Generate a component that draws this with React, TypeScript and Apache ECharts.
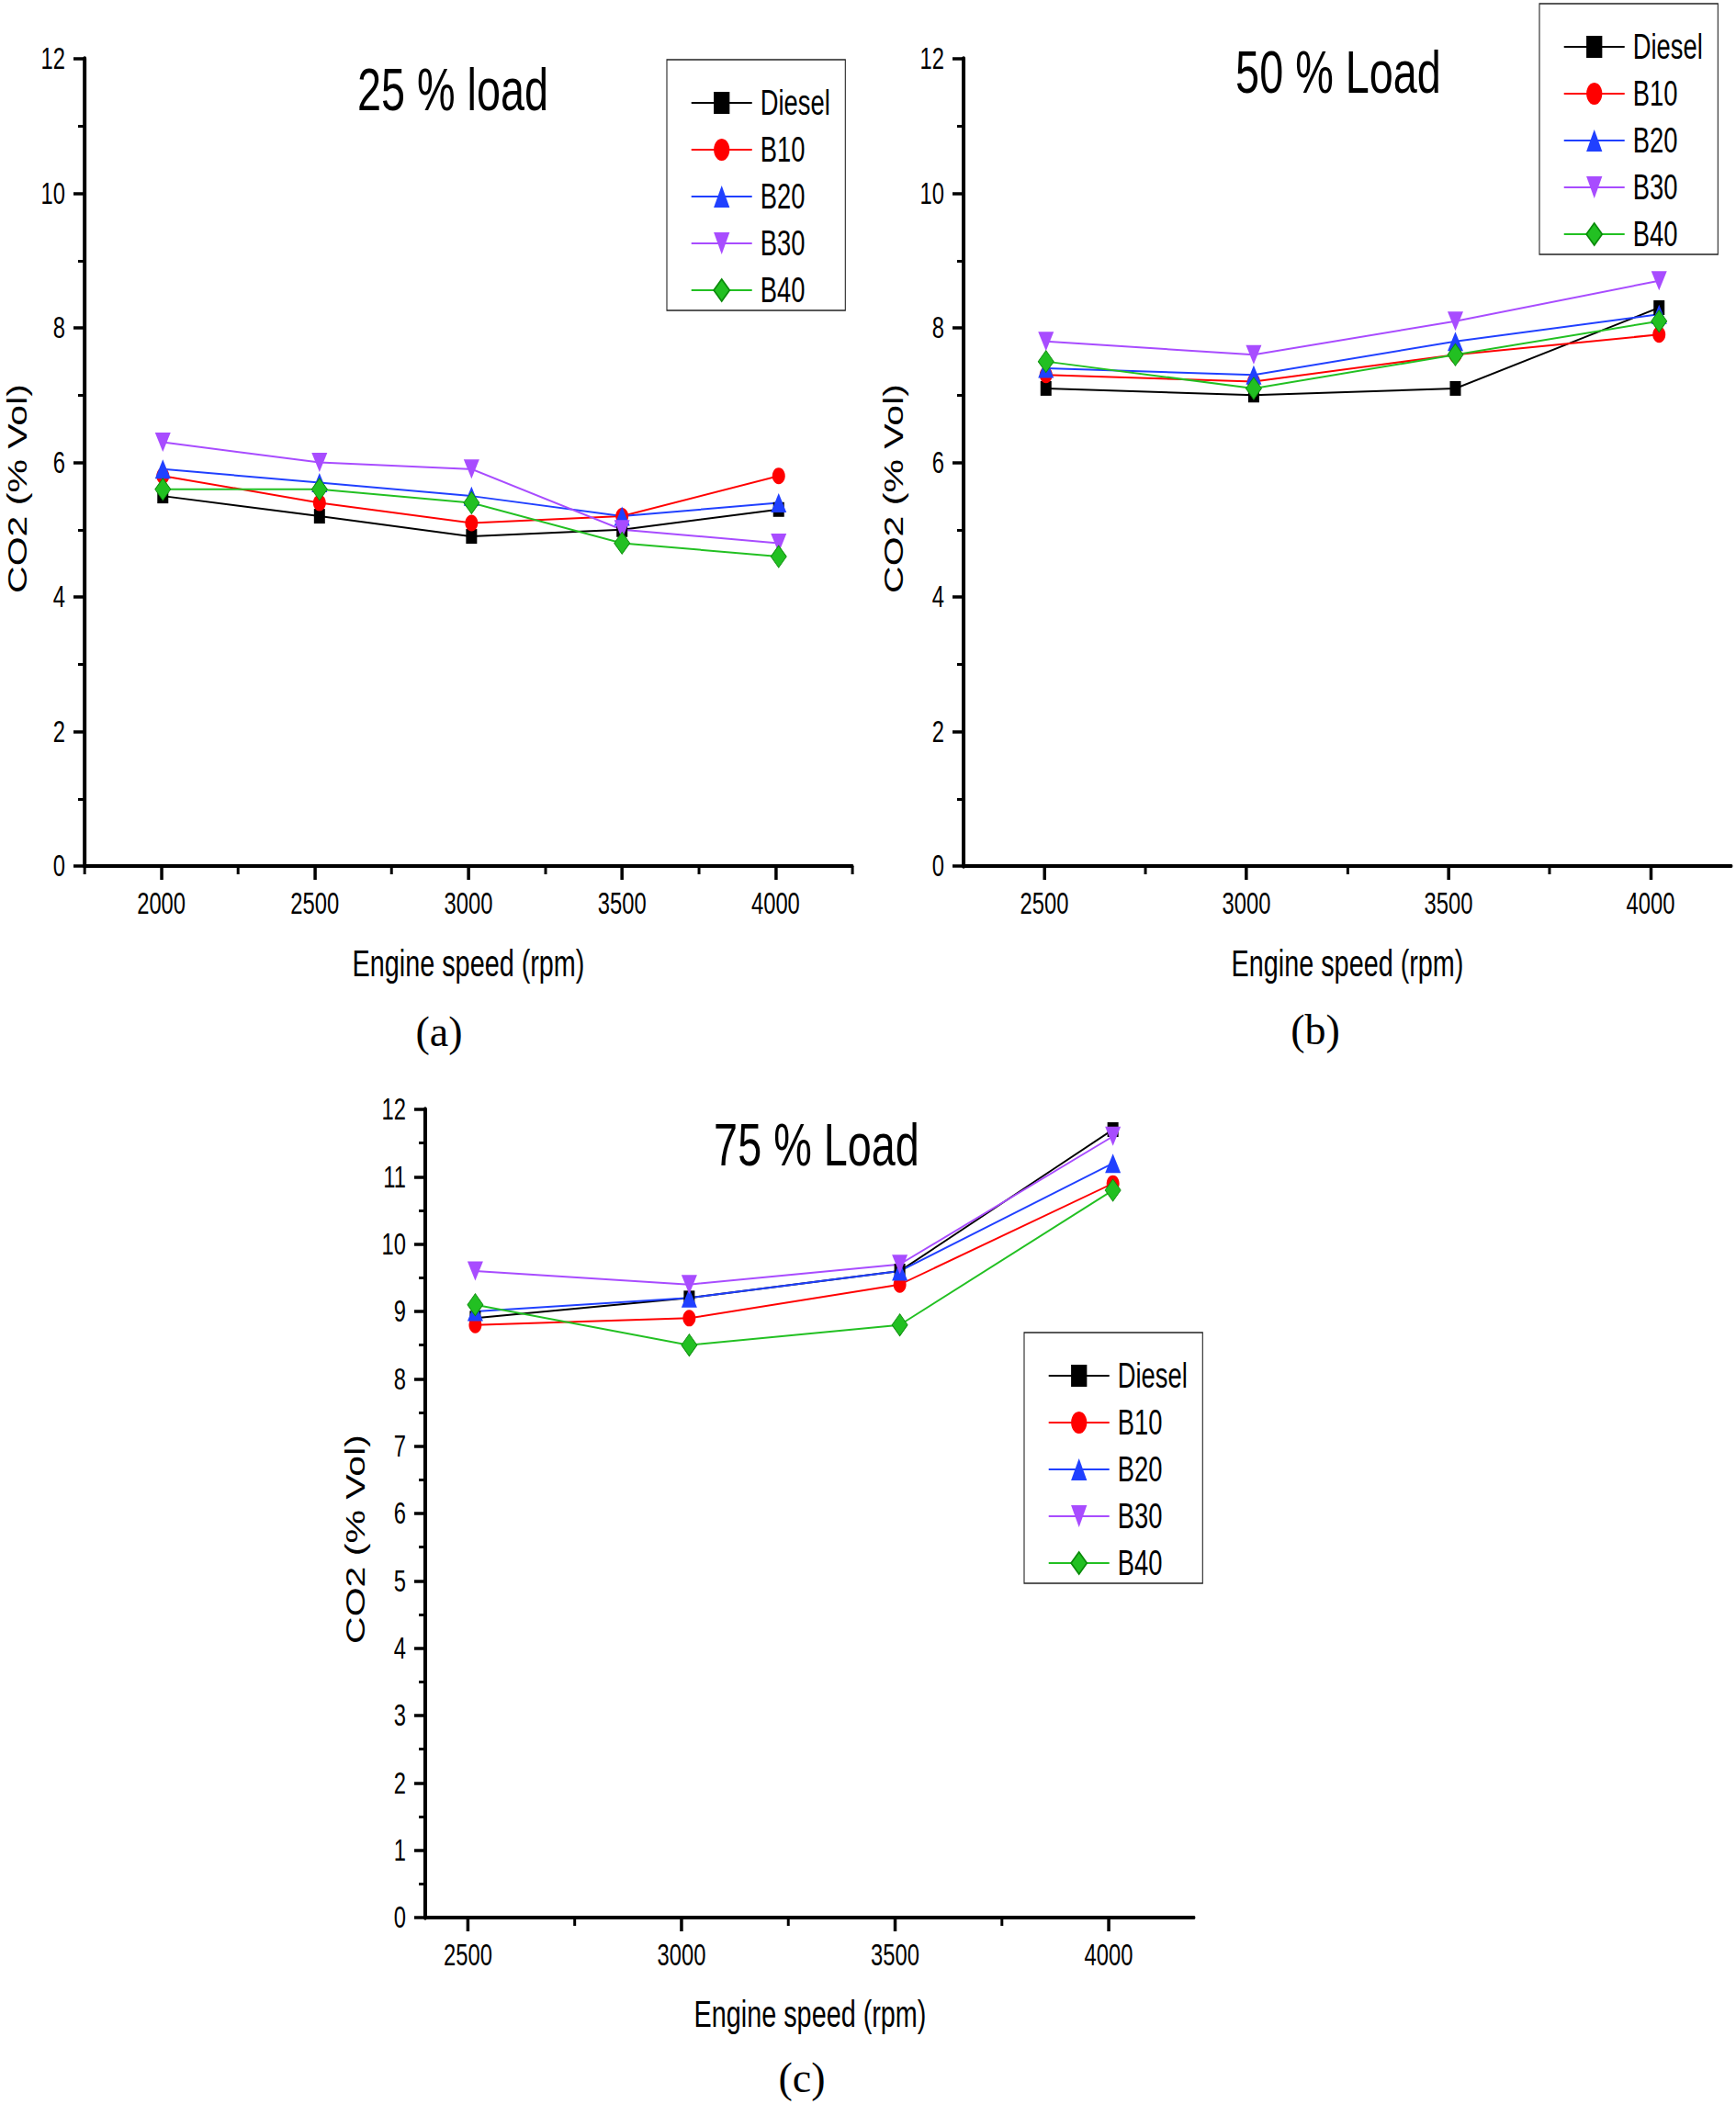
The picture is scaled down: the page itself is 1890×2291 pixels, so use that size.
import React, { useEffect, useRef } from "react";
import * as echarts from "echarts";

// ---- data ----
const seriesNames = ["Diesel", "B10", "B20", "B30", "B40"];
const seriesColors = ["#000000", "#ff0000", "#2040ff", "#a84cff", "#22c022"];

const speedA = [2005, 2515, 3010, 3500, 4010];
const dieselA = [5.5, 5.2, 4.9, 5.0, 5.3];
const b10A = [5.8, 5.4, 5.1, 5.2, 5.8];
const b20A = [5.9, 5.7, 5.5, 5.2, 5.4];
const b30A = [6.3, 6.0, 5.9, 5.0, 4.8];
const b40A = [5.6, 5.6, 5.4, 4.8, 4.6];

const speedB = [2504, 3018, 3517, 4021];
const dieselB = [7.1, 7.0, 7.1, 8.3];
const b10B = [7.3, 7.2, 7.6, 7.9];
const b20B = [7.4, 7.3, 7.8, 8.2];
const b30B = [7.8, 7.6, 8.1, 8.7];
const b40B = [7.5, 7.1, 7.6, 8.1];

const speedC = [2517, 3018, 3511, 4010];
const dieselC = [8.9, 9.2, 9.6, 11.7];
const b10C = [8.8, 8.9, 9.4, 10.9];
const b20C = [9.0, 9.2, 9.6, 11.2];
const b30C = [9.6, 9.4, 9.7, 11.6];
const b40C = [9.1, 8.5, 8.8, 10.8];

const xLabelTicksA = [2000, 2500, 3000, 3500, 4000];
const xMinorTicksA = [1750, 2250, 2750, 3250, 3750, 4250];
const xLabelTicksBC = [2500, 3000, 3500, 4000];
const xMinorTicksBC = [2750, 3250, 3750];

const panelTitles = ["25 % load", "50 % Load", "75 % Load"];
const panelTags = ["(a)", "(b)", "(c)"];
const yTitle = "CO2 (% Vol)";
const xTitle = "Engine speed (rpm)";

const SANS = "'Liberation Sans', Arial, sans-serif";
const SERIF = "'Liberation Serif', 'Times New Roman', serif";

const symbols = ["rect", "circle", "triangle", "triangle", "diamond"];
const symbolRotates = [0, 0, 0, 180, 0];

// the reference figure is horizontally condensed; the chart is drawn wider and squeezed
const K = 0.72;
const W = 1890 / K;
const H = 2291;

export default function App() {
  const ref = useRef<HTMLDivElement>(null);

  useEffect(() => {
    if (!ref.current) return;
    const chart = echarts.init(ref.current, null, { renderer: "svg" });
    const sx = (v: number) => v / K;

    const symbolSizes: any[] = [
      [sx(12), 16], [sx(14), 18], [sx(17), 21], [sx(17), 21], [sx(17), 24],
    ];

    const panels = [
      {
        grid: { left: sx(92), top: 64, width: sx(836), height: 879 },
        xmin: 1750, xmax: 4250, labelTicks: xLabelTicksA, minorTicks: xMinorTicksA,
        yInterval: 2, speed: speedA, vals: [dieselA, b10A, b20A, b30A, b40A],
        legend: { left: 726, top: 65 },
        title: { x: 493, y: 98 }, tag: { x: 478, y: 1124 },
        yName: { x: 19, y: 532 }, xName: { x: 510, y: 1049 },
      },
      {
        grid: { left: sx(1049), top: 64, width: sx(836), height: 879 },
        xmin: 2300, xmax: 4200, labelTicks: xLabelTicksBC, minorTicks: xMinorTicksBC,
        yInterval: 2, speed: speedB, vals: [dieselB, b10B, b20B, b30B, b40B],
        legend: { left: 1676, top: 4 },
        title: { x: 1457, y: 79 }, tag: { x: 1432, y: 1122 },
        yName: { x: 973, y: 532 }, xName: { x: 1467, y: 1049 },
      },
      {
        grid: { left: sx(463), top: 1208, width: sx(837), height: 880 },
        xmin: 2400, xmax: 4200, labelTicks: xLabelTicksBC, minorTicks: xMinorTicksBC,
        yInterval: 1, speed: speedC, vals: [dieselC, b10C, b20C, b30C, b40C],
        legend: { left: 1115, top: 1451 },
        title: { x: 889, y: 1247 }, tag: { x: 873, y: 2263 },
        yName: { x: 387, y: 1676 }, xName: { x: 882, y: 2193 },
      },
    ];

    const grids: any[] = [];
    const xAxes: any[] = [];
    const yAxes: any[] = [];
    const series: any[] = [];
    const legends: any[] = [];
    const graphics: any[] = [];
    const plain = (v: number) => String(v);

    panels.forEach((p, i) => {
      grids.push({ ...p.grid, containLabel: false });
      xAxes.push({
        gridIndex: i, type: "value", position: "bottom", min: p.xmin, max: p.xmax,
        axisLine: { show: true, onZero: false, lineStyle: { color: "#000", width: 4 } },
        axisTick: { show: true, inside: false, length: 15, customValues: p.labelTicks, lineStyle: { color: "#000", width: sx(3.5) } },
        axisLabel: { show: true, customValues: p.labelTicks, formatter: plain, margin: 24, fontSize: 33, fontFamily: SANS, color: "#000" },
        splitLine: { show: false },
      });
      xAxes.push({
        gridIndex: i, type: "value", position: "bottom", min: p.xmin, max: p.xmax,
        axisLine: { show: false, onZero: false },
        axisTick: { show: true, inside: false, length: 9, customValues: p.minorTicks, lineStyle: { color: "#000", width: sx(3) } },
        axisLabel: { show: false },
        splitLine: { show: false },
      });
      yAxes.push({
        gridIndex: i, type: "value", position: "left", min: 0, max: 12, interval: p.yInterval,
        axisLine: { show: true, onZero: false, lineStyle: { color: "#000", width: sx(4) } },
        axisTick: { show: true, inside: false, length: sx(12), lineStyle: { color: "#000", width: 3.5 } },
        minorTick: { show: true, splitNumber: 2, length: sx(7), lineStyle: { color: "#000", width: 3 } },
        axisLabel: { show: true, formatter: plain, margin: sx(21), fontSize: 33, fontFamily: SANS, color: "#000" },
        splitLine: { show: false },
        minorSplitLine: { show: false },
      });
      seriesNames.forEach((name, k) => {
        series.push({
          type: "line", name, xAxisIndex: i * 2, yAxisIndex: i,
          data: p.speed.map((s, j) => [s, p.vals[k][j]]),
          symbol: symbols[k], symbolSize: symbolSizes[k], symbolRotate: symbolRotates[k],
          showAllSymbol: true,
          lineStyle: { color: seriesColors[k], width: 2 },
          itemStyle: k === 4
            ? { color: seriesColors[k], borderColor: "#0a8a0a", borderWidth: 1 }
            : { color: seriesColors[k] },
          emphasis: { disabled: true },
        });
      });
      legends.push({
        orient: "vertical", left: sx(p.legend.left), top: p.legend.top,
        data: seriesNames, selectedMode: false,
        itemWidth: sx(66), itemHeight: 30, itemGap: 13,
        padding: [28, 23, 3, sx(26)],
        borderColor: "#222", borderWidth: 1.5, backgroundColor: "#fff",
        textStyle: { fontSize: 38, fontFamily: SANS, color: "#000", lineHeight: 36, padding: [0, 0, 0, 7.5] },
      });
      graphics.push({
        type: "text", x: sx(p.title.x), y: p.title.y,
        style: { text: panelTitles[i], fontSize: 65, fontFamily: SANS, fill: "#000", textAlign: "center", textVerticalAlign: "middle" },
      });
      graphics.push({
        type: "text", x: sx(p.tag.x), y: p.tag.y, scaleX: 1 / K,
        style: { text: panelTags[i], fontSize: 46, fontFamily: SERIF, fill: "#000", textAlign: "center", textVerticalAlign: "middle" },
      });
      graphics.push({
        type: "text", x: sx(p.xName.x), y: p.xName.y,
        style: { text: xTitle, fontSize: 40, fontFamily: SANS, fill: "#000", textAlign: "center", textVerticalAlign: "middle" },
      });
      graphics.push({
        type: "text", x: sx(p.yName.x), y: p.yName.y, rotation: Math.PI / 2,
        style: { text: yTitle, fontSize: 41, fontFamily: SANS, fill: "#000", textAlign: "center", textVerticalAlign: "middle" },
      });
    });

    chart.setOption({
      animation: false,
      backgroundColor: "#ffffff",
      grid: grids,
      xAxis: xAxes,
      yAxis: yAxes,
      series,
      legend: legends,
      graphic: graphics,
    });

    return () => chart.dispose();
  }, []);

  return (
    <div style={{ position: "absolute", left: 0, top: 0, width: 1890, height: H, overflow: "hidden", background: "#fff" }}>
      <div
        ref={ref}
        style={{ width: W, height: H, transform: `scaleX(${K})`, transformOrigin: "0 0" }}
      />
    </div>
  );
}
